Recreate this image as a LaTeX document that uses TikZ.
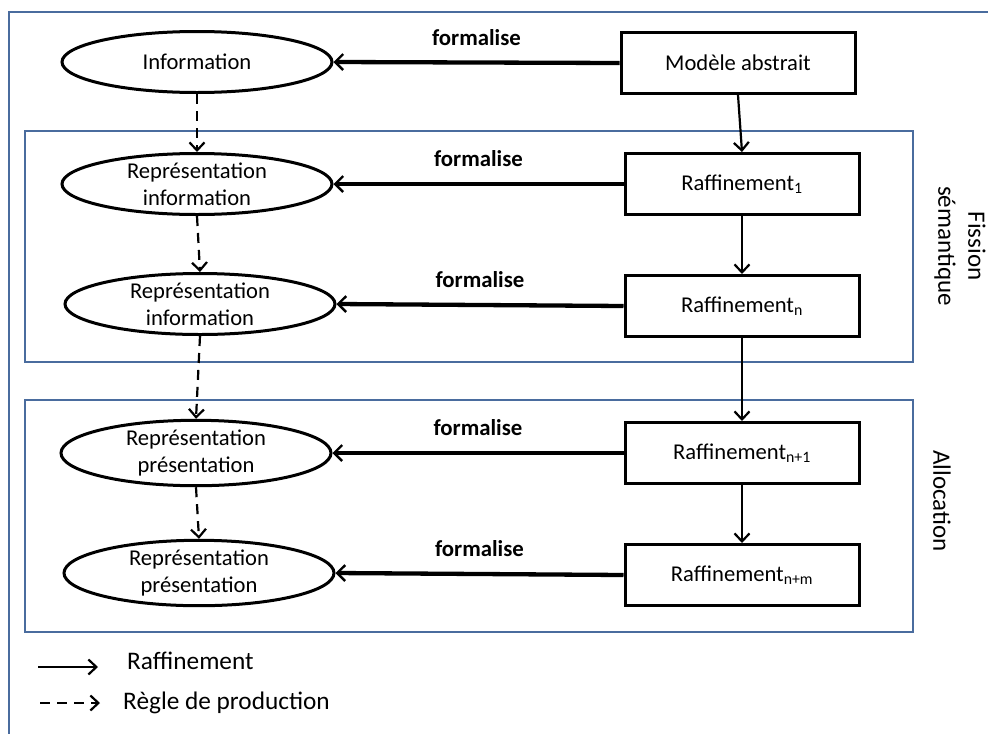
\documentclass[tikz,border=0pt]{standalone}
\usepackage{fontspec}
\setmainfont{Carlito}
\usetikzlibrary{shapes.geometric,arrows.meta}
\definecolor{frameblue}{RGB}{74,108,158}
\begin{document}
\begin{tikzpicture}[x=1pt,y=-1pt,
  every node/.style={font=\fontsize{22.6}{27}\selectfont},
  ell/.style={ellipse,draw,line width=3pt,minimum width=270pt,minimum height=61pt,inner sep=0pt,align=center},
  box/.style={rectangle,draw,line width=3pt,minimum width=234pt,minimum height=61pt,inner sep=0pt,align=center},
  formal/.style={line width=4.3pt,-{Straight Barb[length=8pt,width=16pt,line width=2.4pt]}},
  refine/.style={line width=2.2pt,-{Straight Barb[length=8pt,width=15pt]}},
  prod/.style={line width=2.2pt,dash pattern=on 10pt off 7pt,-{Straight Barb[length=8pt,width=15pt]}},
  flabel/.style={font=\fontsize{22.8}{27}\selectfont\bfseries,inner sep=0pt,above=15pt},
  grp/.style={draw=frameblue,line width=2.6pt},
  side/.style={font=\fontsize{25}{30}\selectfont,rotate=-90,align=center,inner sep=0pt},
  leg/.style={font=\fontsize{25.3}{30}\selectfont,anchor=west,inner sep=0pt}]
\useasboundingbox (0,0) rectangle (988,734);
% outer frame (top and left sides)
\draw[grp] (988,12) -- (9,12) -- (9,734);
% group boxes
\draw[grp] (25,131) rectangle (913,362);
\draw[grp] (25,400) rectangle (913,632);
% ellipses
\node[ell] (info) at (197,62) {Information};
\node[ell] (ri1) at (197,184) {Représentation\\information};
\node[ell] (ri2) at (200,304) {Représentation\\information};
\node[ell] (rp1) at (196,453) {Représentation\\présentation};
\node[ell] (rp2) at (199,573) {Représentation\\présentation};
% boxes
\node[box] (mod) at (738,63) {Modèle abstrait};
\node[box] (r1) at (742,184) {Raffinement\textsubscript{1}};
\node[box] (rn) at (742,306) {Raffinement\textsubscript{n}};
\node[box] (rn1) at (742,453) {Raffinement\textsubscript{n+1}};
\node[box] (rnm) at (742,575) {Raffinement\textsubscript{n+m}};
% formalise arrows
\draw[formal] (mod.west) -- node[flabel] {formalise} (info.east);
\draw[formal] (r1.west) -- node[flabel] {formalise} (ri1.east);
\draw[formal] (rn.west) -- node[flabel] {formalise} (ri2.east);
\draw[formal] (rn1.west) -- node[flabel] {formalise} (rp1.east);
\draw[formal] (rnm.west) -- node[flabel] {formalise} (rp2.east);
% refinement arrows
\draw[refine] (mod.south) -- (r1.north);
\draw[refine] (r1.south) -- (rn.north);
\draw[refine] (rn.south) -- (rn1.north);
\draw[refine] (rn1.south) -- (rnm.north);
% production rule arrows
\draw[prod] (info.south) -- (ri1.north);
\draw[prod] (ri1.south) -- (ri2.north);
\draw[prod] (ri2.south) -- (rp1.north);
\draw[prod] (rp1.south) -- (rp2.north);
% side labels
\node[side] (fis) at (960,246) {Fission\\sémantique};
\node[side] (alloc) at (942,501) {Allocation};
% legend
\coordinate (l1a) at (38,667);
\coordinate (l1b) at (98,667);
\coordinate (l2a) at (40,703);
\coordinate (l2b) at (100,703);
\draw[refine] (l1a) -- (l1b);
\draw[prod] (l2a) -- (l2b);
\node[leg] (lt1) at (127,661) {Raffinement};
\node[leg] (lt2) at (123,703) {Règle de production};
\end{tikzpicture}
\end{document}
